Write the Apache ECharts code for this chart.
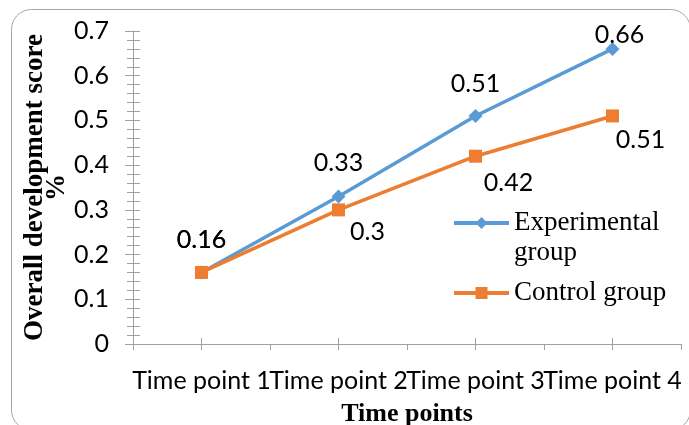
<!DOCTYPE html>
<html><head><meta charset="utf-8">
<script src="https://cdn.jsdelivr.net/npm/echarts@6/dist/echarts.min.js"></script>
<style>html,body{margin:0;padding:0;background:#fff}#c{width:689px;height:425px}</style>
</head><body><div id="c"></div>
<script>
const categories = ['Time point 1', 'Time point 2', 'Time point 3', 'Time point 4'];
const experimental = [0.16, 0.33, 0.51, 0.66];
const control = [0.16, 0.3, 0.42, 0.51];
const seriesNames = ['Experimental group', 'Control group'];
const yMin = 0, yMax = 0.7, yStep = 0.1;

const sans = 'Lato';
const serif = 'Liberation Serif';
const expOffsets = [[0, -33], [0, -34], [0, -32], [7, -14]];
const ctrlOffsets = [[0, -33], [29, 22], [33, 27], [28, 24]];

const chart = echarts.init(document.getElementById('c'), null, {renderer: 'canvas'});
const grid = {left: 133, right: 8, top: 31, bottom: 81, containLabel: false, outerBoundsMode: 'none'};
const tickColor = '#a0a0a0';

chart.setOption({
  animation: false,
  graphic: [{
    type: 'rect', z: -1, silent: true,
    shape: {x: 11.5, y: 9.5, width: 679, height: 420.5, r: 20},
    style: {fill: 'none', stroke: '#a6a6a6', lineWidth: 1}
  }],
  grid: grid,
  legend: {
    orient: 'vertical', left: 447, top: 173, itemGap: 10,
    itemWidth: 55, itemHeight: 15,
    lineStyle: {width: 4},
    data: [seriesNames[0], seriesNames[1]],
    formatter: n => n === seriesNames[0] ? '\nExperimental\ngroup' : n,
    textStyle: {fontFamily: serif, fontSize: 27, color: '#000', lineHeight: 30}
  },
  xAxis: [{
    type: 'category', data: categories, boundaryGap: true,
    axisLine: {lineStyle: {color: tickColor, width: 1}},
    axisTick: {show: true, length: 6, lineStyle: {color: tickColor}},
    axisLabel: {fontFamily: sans, fontSize: 25, color: '#000', margin: 24, interval: 0},
    name: 'Time points', nameLocation: 'middle', nameGap: 57, nameMoveOverlap: false,
    nameTextStyle: {fontFamily: serif, fontSize: 26, fontWeight: 'bold', color: '#000'}
  }, {
    type: 'category', data: categories, boundaryGap: true, position: 'bottom', offset: -6,
    axisLine: {show: false},
    axisTick: {show: true, alignWithLabel: true, length: 12, lineStyle: {color: tickColor}},
    axisLabel: {show: false}
  }],
  yAxis: [{
    type: 'value', min: yMin, max: yMax, interval: yStep,
    axisLine: {show: true, lineStyle: {color: tickColor, width: 1}},
    axisTick: {show: false},
    splitLine: {show: false},
    axisLabel: {fontFamily: sans, fontSize: 25, color: '#000', margin: 24},
    name: 'Overall development score\n%', nameLocation: 'middle', nameGap: 65, nameRotate: 90,
    nameMoveOverlap: false,
    nameTextStyle: {fontFamily: serif, fontSize: 27, fontWeight: 'bold', color: '#000', lineHeight: 22}
  }, {
    type: 'value', min: yMin, max: yMax, interval: yStep, position: 'left', offset: -7,
    axisLine: {show: false},
    axisTick: {show: true, length: 15, lineStyle: {color: tickColor}},
    minorTick: {show: true, splitNumber: 5, length: 13, lineStyle: {color: tickColor}},
    splitLine: {show: false}, minorSplitLine: {show: false},
    axisLabel: {show: false}
  }],
  series: [{
    name: seriesNames[0], type: 'line',
    data: experimental.map((v, i) => ({value: v, label: {offset: expOffsets[i]}})),
    symbol: 'diamond', symbolSize: 14,
    itemStyle: {color: '#5B9BD5'},
    lineStyle: {color: '#5B9BD5', width: 3.5},
    label: {show: true, position: 'inside', fontFamily: sans, fontSize: 25, color: '#000'}
  }, {
    name: seriesNames[1], type: 'line',
    data: control.map((v, i) => ({value: v, label: {offset: ctrlOffsets[i]}})),
    symbol: 'rect', symbolSize: 13,
    itemStyle: {color: '#ED7D31'},
    lineStyle: {color: '#ED7D31', width: 3.5},
    label: {show: true, position: 'inside', fontFamily: sans, fontSize: 25, color: '#000'}
  }]
});
</script>
</body></html>
